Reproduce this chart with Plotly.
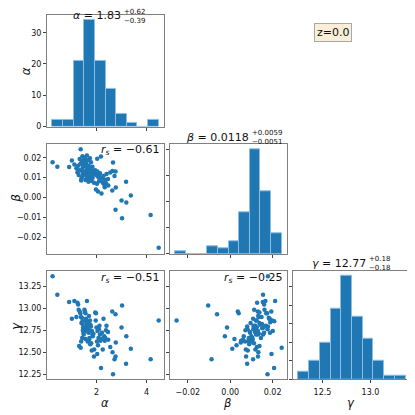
import plotly.graph_objects as go

# --- histogram data (bin edges + counts) ---
alpha_edges = [0.24, 0.664, 1.088, 1.512, 1.936, 2.36, 2.784, 3.208, 3.632, 4.056, 4.48]
alpha_counts = [2, 2, 21, 34, 21, 12, 4, 1, 0, 2]
beta_edges = [-0.0259, -0.02088, -0.01586, -0.01084, -0.00582, -0.0008, 0.00422, 0.00924, 0.01426, 0.01928, 0.0243]
beta_counts = [1, 0, 0, 3, 2, 5, 16, 40, 24, 8]
gamma_edges = [12.248, 12.3599, 12.4718, 12.5837, 12.6956, 12.8075, 12.9194, 13.0313, 13.1432, 13.2551, 13.367]
gamma_counts = [2, 5, 10, 19, 28, 17, 11, 5, 1, 1]

# --- samples (alpha, beta, gamma) ---
alpha_pts = [0.25, 0.44, 0.91, 1.02, 4.48, 4.16, 3.02, 2.76, 3.00, 3.19, 3.37, 3.18, 2.18, 2.66, 1.37,
             2.64, 2.76, 2.72, 2.77, 2.63, 1.98, 2.33, 2.03, 2.16,
             1.12, 1.20, 1.24, 1.27, 1.29, 1.33, 1.36, 1.38, 1.40, 1.42, 1.44, 1.45, 1.46, 1.47, 1.48,
             1.49, 1.50, 1.43, 1.39, 1.31,
             1.53, 1.62, 1.74, 1.52, 1.56, 1.58, 1.60, 1.63, 1.66, 1.69, 1.72, 1.78, 1.84, 1.54, 1.57,
             1.59, 1.61, 1.64, 1.65, 1.67, 1.70, 1.71, 1.73, 1.76, 1.79, 1.82, 1.85, 1.88, 1.91, 1.56,
             1.68, 1.75, 1.81, 1.90,
             1.95, 1.97, 2.00, 2.04, 2.08, 2.12, 2.14, 2.22, 2.28, 2.02, 2.10, 2.25, 2.31, 2.35, 2.06,
             2.20,
             2.40, 2.46, 2.55, 2.38, 2.47]
beta_pts = [0.0178, 0.0155, 0.0154, 0.0186, -0.0253, -0.0088, -0.0104, -0.0062, -0.0015, -0.0025, 0.0010,
            0.0080, 0.0207, 0.0176, 0.0243,
            0.0133, 0.0131, 0.0108, 0.0050, 0.0036, 0.0040, 0.0052, 0.0195, 0.0097,
            0.0166, 0.0148, 0.0127, 0.0160, 0.0113, 0.0194, 0.0170, 0.0136, 0.0096, 0.0182, 0.0208,
            0.0150, 0.0120, 0.0157, 0.0188, 0.0131, 0.0176, 0.0105, 0.0086, 0.0138,
            0.0201, 0.0212, 0.0198, 0.0162, 0.0174, 0.0185, 0.0168, 0.0151, 0.0189, 0.0160, 0.0145,
            0.0178, 0.0155, 0.0130, 0.0121, 0.0109, 0.0138, 0.0125, 0.0099, 0.0117, 0.0132, 0.0106,
            0.0123, 0.0140, 0.0112, 0.0128, 0.0100, 0.0135, 0.0119, 0.0088, 0.0080, 0.0090, 0.0083,
            0.0075,
            0.0138, 0.0125, 0.0112, 0.0131, 0.0102, 0.0110, 0.0122, 0.0094, 0.0108, 0.0070, 0.0082,
            0.0074, 0.0064, 0.0088, 0.0030, 0.0020,
            0.0118, 0.0093, 0.0126, 0.0072, 0.0060]
gamma_pts = [13.36, 13.15, 13.07, 12.88, 12.86, 12.42, 13.03, 12.93, 12.78, 12.68, 12.54, 12.37, 12.32,
             12.25, 12.55,
             12.50, 12.45, 12.42, 12.61, 12.96, 12.94, 12.63, 12.48, 12.63,
             13.08, 12.90, 13.06, 13.04, 12.98, 12.96, 12.94, 12.90, 12.83, 12.89, 12.85, 12.82, 12.75,
             12.78, 12.72, 12.70, 12.76, 12.66, 12.62, 12.57,
             12.74, 13.08, 12.86, 12.98, 12.94, 12.88, 12.80, 12.77, 12.84, 12.72, 12.66, 12.79, 12.70,
             12.96, 12.86, 12.76, 12.83, 12.78, 12.62, 12.73, 12.91, 12.64, 12.75, 12.81, 12.60, 12.74,
             12.68, 12.71, 12.53, 12.65, 12.79, 12.59, 12.52, 12.45,
             12.95, 12.86, 12.78, 12.74, 12.66, 12.80, 12.70, 12.72, 12.88, 12.62, 12.76, 12.53, 12.68,
             12.66, 12.58, 12.65,
             12.80, 12.73, 12.56, 12.75, 12.64]

titles = [("α", "1.83", "+0.62", "−0.39"),
          ("β", "0.0118", "+0.0059", "−0.0051"),
          ("γ", "12.77", "+0.18", "−0.18")]
rs_values = ["−0.61", "−0.51", "−0.25"]
z_label = "z=0.0"

# page body adds an 8px offset, so the figure is 407 wide and positions are shifted
OFF = 8
W = H = 415 - OFF
BLUE = "#1f77b4"
FONT = "DejaVu Sans"


def px(x):
    return (x - OFF) / W


def py(y):
    return 1 - (y - OFF) / H


col_dom = [[px(47), px(164)], [px(170), px(287)], [px(293), px(411)]]
row_dom = [[py(128), py(15)], [py(257), py(146)], [py(384), py(274)]]

a_rng = [0.028, 4.692]
b_rng = [-0.02841, 0.02681]
g_rng = [12.192, 13.423]


def hist_bar(edges, counts, xa, ya):
    centers = [(edges[i] + edges[i + 1]) / 2 for i in range(len(counts))]
    widths = [edges[i + 1] - edges[i] for i in range(len(counts))]
    return go.Bar(x=centers, y=counts, width=widths, xaxis=xa, yaxis=ya,
                  marker=dict(color=BLUE, line=dict(color="#8fbde0", width=1)),
                  showlegend=False, hoverinfo="skip")


def dots(x, y, xa, ya):
    return go.Scatter(x=x, y=y, mode="markers", xaxis=xa, yaxis=ya,
                      marker=dict(color=BLUE, size=4.5, line=dict(width=0)),
                      showlegend=False, hoverinfo="skip")


fig = go.Figure()
fig.add_trace(hist_bar(alpha_edges, alpha_counts, "x", "y"))
fig.add_trace(dots(alpha_pts, beta_pts, "x2", "y2"))
fig.add_trace(hist_bar(beta_edges, beta_counts, "x3", "y3"))
fig.add_trace(dots(alpha_pts, gamma_pts, "x4", "y4"))
fig.add_trace(dots(beta_pts, gamma_pts, "x5", "y5"))
fig.add_trace(hist_bar(gamma_edges, gamma_counts, "x6", "y6"))


def axis(dom, anchor, rng, tickvals, labels, fmt=None, standoff=0):
    d = dict(domain=dom, anchor=anchor, range=rng, tickvals=tickvals,
             showticklabels=labels, ticks="outside", ticklen=3, tickwidth=1, tickcolor="#444",
             showline=True, mirror=True, linecolor="#808080", linewidth=1,
             showgrid=False, zeroline=False, tickfont=dict(size=8, color="#111"))
    if fmt:
        d["tickformat"] = fmt
    if standoff:
        d["ticklabelstandoff"] = standoff
    return d


a_ticks = [2, 4]
b_ticks = [-0.02, 0.0, 0.02]
g_ticks_x = [12.5, 13.0]
g_ticks_y = [12.25, 12.5, 12.75, 13.0, 13.25]

lay = {}
# (0,0) alpha hist
lay["xaxis"] = axis(col_dom[0], "y", a_rng, a_ticks, False)
lay["yaxis"] = axis(row_dom[0], "x", [0, 35.7], [0, 10, 20, 30], True)
# (1,0) alpha-beta
lay["xaxis2"] = axis(col_dom[0], "y2", a_rng, a_ticks, False)
lay["yaxis2"] = axis(row_dom[1], "x2", b_rng, b_ticks + [-0.01, 0.01], True, ".2f")
# (1,1) beta hist
lay["xaxis3"] = axis(col_dom[1], "y3", b_rng, b_ticks, False)
lay["yaxis3"] = axis(row_dom[1], "x3", [0, 42], [0, 10, 20, 30, 40], False)
# (2,0) alpha-gamma
lay["xaxis4"] = axis(col_dom[0], "y4", a_rng, a_ticks, True, standoff=2)
lay["yaxis4"] = axis(row_dom[2], "x4", g_rng, g_ticks_y, True, ".2f")
# (2,1) beta-gamma
lay["xaxis5"] = axis(col_dom[1], "y5", b_rng, b_ticks, True, ".2f", standoff=2)
lay["yaxis5"] = axis(row_dom[2], "x5", g_rng, g_ticks_y, False)
# (2,2) gamma hist
lay["xaxis6"] = axis(col_dom[2], "y6", g_rng, g_ticks_x, True, ".1f", standoff=2)
lay["yaxis6"] = axis(row_dom[2], "x6", [0, 29.4], [0, 5, 10, 15, 20, 25], False)

ann = []


def note(text, x, y, size, xanchor="center", yanchor="middle", angle=0, pad=1):
    ann.append(dict(text=text, x=px(x), y=py(y), xref="paper", yref="paper", showarrow=False,
                    xanchor=xanchor, yanchor=yanchor, textangle=angle, borderpad=pad,
                    font=dict(family=FONT, size=size, color="#111")))


# diagonal titles with stacked errors
title_pos = [(122, 16, 12.5, 21.5), (250, 139.5, 135, 144), (367, 267, 262.5, 271.5)]
for (sym, val, up, lo), (xr, ym, ys, yb) in zip(titles, title_pos):
    note("<i>%s</i> = %s" % (sym, val), xr, ym, 11, xanchor="right", pad=0)
    note(up, xr + 1, ys, 7, xanchor="left", pad=0)
    note(lo, xr + 1, yb, 7, xanchor="left", pad=0)

# spearman coefficients
rs_pos = [(161, 152), (161, 281), (284, 281)]
for v, (x, y) in zip(rs_values, rs_pos):
    note("<i>r<sub>s</sub></i> = " + v, x, y, 11, xanchor="right")

# axis labels
note("<i>α</i>", 26, 72, 12, angle=-90)
note("<i>β</i>", 16, 201, 12, angle=-90, pad=0)
note("<i>γ</i>", 16, 330, 12, angle=-90, pad=0)
note("<i>α</i>", 105, 407.5, 11.5, pad=0)
note("<i>β</i>", 227, 407.5, 11.5, pad=0)
note("<i>γ</i>", 351, 407.5, 11.5, pad=0)

ann.append(dict(text=z_label, x=px(352), y=py(23.5), xref="paper", yref="paper", showarrow=False,
                font=dict(family=FONT, size=11, color="#111"),
                bgcolor="#faeed9", bordercolor="#a8a8a8", borderwidth=1, borderpad=2))

fig.update_layout(width=W, height=H, margin=dict(l=0, r=0, t=0, b=0),
                  paper_bgcolor="white", plot_bgcolor="white",
                  font=dict(family=FONT, size=8, color="#111"),
                  bargap=0, annotations=ann, **lay)

fig.write_html("out.html")
